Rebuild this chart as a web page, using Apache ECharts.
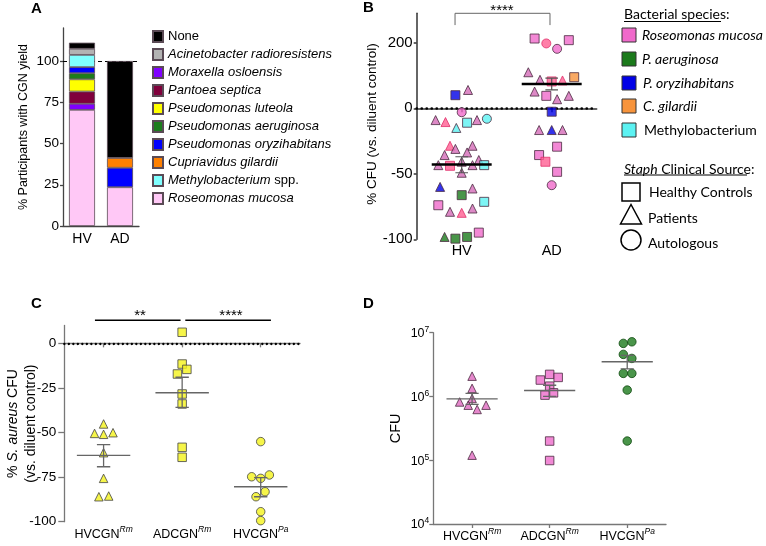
<!DOCTYPE html>
<html>
<head>
<meta charset="UTF-8">
<title>CGN yield and S. aureus CFU</title>
<script src="https://cdn.jsdelivr.net/npm/echarts@6.0.0/dist/echarts.min.js"></script>
<style>
    html, body { margin: 0; padding: 0; background: #fff; }
    #main { width: 766px; height: 546px; }
</style>
</head>
<body>
<div id="main"></div>
<script>
// ---- panel A: % participants with CGN yield ----
var aCats = ['HV', 'AD'];
// stack order, bottom to top
var aSpecies = ['Roseomonas mucosa', 'Moraxella osloensis', 'Pantoea septica', 'Pseudomonas luteola',
    'Pseudomonas aeruginosa', 'Pseudomonas oryzihabitans', 'Cupriavidus gilardii',
    'Methylobacterium spp.', 'Acinetobacter radioresistens', 'None'];
var aHV = [70.4, 3.7, 7.4, 7.4, 3.7, 3.7, 0, 7.4, 3.7, 3.7];
var aAD = [23.5, 0, 0, 0, 0, 11.8, 5.9, 0, 0, 58.8];
var aLegend = ['None', 'Acinetobacter radioresistens', 'Moraxella osloensis', 'Pantoea septica',
    'Pseudomonas luteola', 'Pseudomonas aeruginosa', 'Pseudomonas oryzihabitans',
    'Cupriavidus gilardii', 'Methylobacterium spp.', 'Roseomonas mucosa'];

// ---- panel B: % CFU vs diluent control ----
var bCats = ['HV', 'AD'];
var bHVval = [40, 56, -3, -9, -10.5, -15, -11, -9, -8, -28.6, -31, -33.7, -28.6, -35.7, -43.4, -43.9,
    -40.8, -49.2, -43.4, -39.5, -43.4, -60, -66.3, -61.2, -74, -71.4, -79, -79.8, -76.5, -98.2, -99.5, -98.2, -94.9];
var bHVjit = [-0.07, 0.07, 0, -0.29, -0.18, -0.06, 0.06, 0.17, 0.28, -0.13, -0.07, 0.06, 0.12, -0.19, -0.26, -0.13,
    0, 0, 0.12, 0.19, 0.25, -0.24, 0, 0.12, -0.26, 0.25, -0.13, 0, 0.12, -0.19, -0.07, 0.06, 0.19];
var bHVsp = ['Po', 'Rt', 'Rm', 'Rt', 'Rx', 'Mb', 'Mb', 'Rt', 'Mb', 'Rx', 'Rt', 'Rt', 'Rt', 'Rt', 'Rt', 'Rx',
    'Rt', 'Rt', 'Rt', 'Rt', 'Mb', 'Po', 'Pa', 'Rt', 'Rm', 'Mb', 'Rt', 'Rx', 'Rt', 'Pa', 'Pa', 'Pa', 'Rm'];
var bHVsrc = ['H', 'P', 'A', 'P', 'P', 'P', 'H', 'P', 'A', 'P', 'P', 'P', 'P', 'P', 'P', 'H',
    'P', 'P', 'P', 'P', 'H', 'P', 'H', 'P', 'H', 'H', 'P', 'P', 'P', 'P', 'H', 'H', 'H'];
var bADval = [213, 198, 181.5, 208, 110, 87, 82, 85, 95, 51, 38, 27.7, 38, -2.6, -16.6, -16.6, -16.6,
    -29.3, -35.7, -40.8, -48.5, -58.7];
var bADjit = [-0.19, -0.06, 0.06, 0.19, -0.26, -0.13, 0, 0.12, 0.25, -0.19, -0.06, 0.06, 0.19, 0, -0.14, 0, 0.12,
    0.06, -0.14, -0.07, 0.06, 0];
var bADsp = ['Rm', 'Rx', 'Rm', 'Rm', 'Rt', 'Rt', 'Rx', 'Rx', 'Cg', 'Rt', 'Rm', 'Rt', 'Rt', 'Po', 'Rt', 'Po', 'Rt',
    'Rm', 'Rm', 'Rx', 'Rm', 'Rm'];
var bADsrc = ['H', 'A', 'A', 'H', 'P', 'P', 'H', 'P', 'H', 'P', 'H', 'P', 'P', 'H', 'P', 'P', 'P',
    'H', 'H', 'H', 'H', 'A'];
var bMean = [-42.9, 74];
var bErr = [[-49.2, -37], [56, 92]];

// ---- panel C: % S. aureus CFU ----
var cCats = ['HVCGN|Rm', 'ADCGN|Rm', 'HVCGN|Pa'];
var cVals = [
    [-45.2, -50.5, -51, -50.1, -61.3, -75.7, -86, -85.6],
    [6.2, -11.6, -14.6, -17.2, -28.4, -34, -58.3, -63.9],
    [-55.1, -74.8, -75.7, -73.8, -83.2, -86, -94.4, -99.4]
];
var cJit = [
    [0, -0.115, 0, 0.12, 0, 0, -0.06, 0.065],
    [0, 0, 0.06, -0.06, 0, 0, 0, 0],
    [0, -0.115, 0, 0.11, 0.055, -0.06, 0, 0]
];
var cMean = [-62.8, -27.7, -80.4];
var cErr = [[-69.2, -56.8], [-35.9, -19], [-86, -75.3]];

// ---- panel D: CFU ----
var dVals = [
    [2.08e6, 1.34e6, 9.3e5, 8.2e5, 7.3e5, 7.3e5, 6.25e5, 1.2e5],
    [2.22e6, 1.81e6, 1.99e6, 1.45e6, 1.05e6, 1.14e6, 2.0e5, 9.9e4],
    [6.8e6, 7.2e6, 4.57e6, 3.95e6, 2.3e6, 2.3e6, 1.26e6, 2.0e5]
];
var dJit = [
    [0, 0, 0, -0.16, -0.05, 0.18, 0.065, 0],
    [0, -0.12, 0.11, 0, -0.06, 0.05, 0, 0],
    [-0.05, 0.06, -0.05, 0.06, -0.05, 0.06, 0, 0]
];
var dMean = [9.2e5, 1.24e6, 3.5e6];
var dErr = [[7.5e5, 1.12e6], [1.0e6, 1.5e6], [2.7e6, 4.4e6]];

// ---- styles ----
var FONT = '"Liberation Sans", Arial, sans-serif';
var LFONT = 'Lato, "Open Sans", sans-serif';
var aColors = {
    'None': '#000000', 'Acinetobacter radioresistens': '#b3b3b3', 'Moraxella osloensis': '#8000ff',
    'Pantoea septica': '#80003c', 'Pseudomonas luteola': '#ffff00', 'Pseudomonas aeruginosa': '#1d7c1d',
    'Pseudomonas oryzihabitans': '#0000ff', 'Cupriavidus gilardii': '#ff8000',
    'Methylobacterium spp.': '#80ffff', 'Roseomonas mucosa': '#ffc8f6'
};
var spColor = { Rm: '#f06acb', Rt: '#d46cb8', Rx: '#ff5f92', Pa: '#1b7a1b', Po: '#0000e6', Cg: '#f7943c', Mb: '#5cf2f2' };
var srcShape = { H: 'rect', P: 'triangle', A: 'circle' };

function seg(x1, y1, x2, y2) { return [[x1, y1], [x2, y2]]; }
function meanErr(c, m, lo, hi, hw, cw) {
    return {
        mean: [seg(c - hw, m, c + hw, m)],
        err: [seg(c, lo, c, hi), seg(c - cw, lo, c + cw, lo), seg(c - cw, hi, c + cw, hi)]
    };
}
function segLine(segs, xi, yi, color, width, z) {
    var data = [];
    segs.forEach(function (s) { data.push(s[0], s[1], ['-', '-']); });
    return {
        type: 'line', xAxisIndex: xi, yAxisIndex: yi, data: data, symbol: 'none', silent: true,
        connectNulls: false, clip: false, z: z, animation: false,
        lineStyle: { color: color, width: width }
    };
}
function supLabel(v, cats) {
    var c = cats[Math.round(v) - 1];
    if (!c) return '';
    var p = c.split('|');
    return '{b|' + p[0] + '}{s|' + p[1] + '}';
}
var supRich = {
    b: { fontFamily: FONT, fontSize: 12.5, color: '#000', lineHeight: 16, verticalAlign: 'bottom' },
    s: { fontFamily: FONT, fontSize: 8.5, fontStyle: 'italic', color: '#000', lineHeight: 16, verticalAlign: 'top' }
};

var series = [];

// A: stacked bars
aSpecies.forEach(function (name, i) {
    series.push({
        name: name, type: 'bar', stack: 'a', xAxisIndex: 0, yAxisIndex: 0, barWidth: 26, z: 10,
        data: [aHV[i] || null, aAD[i] || null],
        itemStyle: { color: aColors[name], borderColor: '#5a4a55', borderWidth: 0.8 }
    });
});
series.push({
    type: 'line', xAxisIndex: 0, yAxisIndex: 0, data: [], silent: true,
    markLine: {
        silent: true, symbol: ['none', 'none'], label: { show: false },
        lineStyle: { color: '#000', type: [4, 3], width: 1.2 },
        data: [{ yAxis: 100 }]
    }
});

// B: scatter split between upper (>=0) and lower (<0) grids
var bUp = [], bLow = [];
[[bHVval, bHVjit, bHVsp, bHVsrc], [bADval, bADjit, bADsp, bADsrc]].forEach(function (g, gi) {
    g[0].forEach(function (v, k) {
        var sp = g[2][k];
        var item = {
            value: [gi + 1 + g[1][k], v],
            symbol: srcShape[g[3][k]],
            itemStyle: { color: spColor[sp], borderColor: sp === 'Rx' ? '#e0306a' : '#4a2a40', borderWidth: 1 }
        };
        (v >= 0 ? bUp : bLow).push(item);
    });
});
series.push({ type: 'scatter', xAxisIndex: 1, yAxisIndex: 1, symbolSize: 9, data: bUp, z: 10, clip: false });
series.push({
    type: 'scatter', xAxisIndex: 2, yAxisIndex: 2, symbolSize: 9, data: bLow, z: 10, clip: false,
    markLine: {
        silent: true, symbol: ['none', 'none'], label: { show: false },
        lineStyle: { color: '#000', type: [0.1, 4.9], cap: 'round', width: 2.6 },
        data: [{ yAxis: 0 }]
    }
});
var bHVme = meanErr(1, bMean[0], bErr[0][0], bErr[0][1], 0.333, 0.07);
var bADme = meanErr(2, bMean[1], bErr[1][0], bErr[1][1], 0.333, 0.07);
series.push(segLine(bHVme.err, 2, 2, '#555', 1.2, 11));
series.push(segLine(bHVme.mean, 2, 2, '#000', 2.6, 12));
series.push(segLine(bADme.err, 1, 1, '#555', 1.2, 11));
series.push(segLine(bADme.mean, 1, 1, '#000', 2.6, 12));
// significance bracket
series.push(segLine([seg(0.926, 254, 0.926, 290), seg(0.926, 290, 1.981, 290), seg(1.981, 290, 1.981, 254)], 1, 1, '#666', 1, 12));

// C: scatter
var cShapes = ['triangle', 'rect', 'circle'];
cVals.forEach(function (vals, gi) {
    series.push({
        type: 'scatter', xAxisIndex: 3, yAxisIndex: 3, symbol: cShapes[gi], symbolSize: 8.5, z: 10, clip: false,
        itemStyle: { color: '#f4f21c', borderColor: '#444', borderWidth: 1 },
        data: vals.map(function (v, k) { return [gi + 1 + cJit[gi][k], v]; }),
        markLine: gi === 0 ? {
            silent: true, symbol: ['none', 'none'], label: { show: false },
            lineStyle: { color: '#000', type: [0.1, 4.4], cap: 'round', width: 2.3 },
            data: [{ yAxis: 0 }]
        } : undefined
    });
    var me = meanErr(gi + 1, cMean[gi], cErr[gi][0], cErr[gi][1], 0.34, 0.085);
    series.push(segLine(me.err.concat(me.mean), 3, 3, '#666', 1.3, 11));
});
series.push(segLine([seg(0.89, 13, 1.98, 13), seg(2.04, 13, 3.13, 13)], 3, 3, '#000', 1.5, 12));

// D: scatter on log axis
var dShapes = ['triangle', 'rect', 'circle'];
var dColors = ['#e06ac0', '#ee6bcb', '#1d7a1d'];
dVals.forEach(function (vals, gi) {
    series.push({
        type: 'scatter', xAxisIndex: 4, yAxisIndex: 4, symbol: dShapes[gi], symbolSize: 8.5, z: 10, clip: false,
        itemStyle: { color: dColors[gi], borderColor: gi === 2 ? '#0f4a0f' : '#4a2a40', borderWidth: 1 },
        data: vals.map(function (v, k) { return [gi + 1 + dJit[gi][k], v]; })
    });
    var me = meanErr(gi + 1, dMean[gi], dErr[gi][0], dErr[gi][1], 0.33, 0.085);
    series.push(segLine(me.err.concat(me.mean), 4, 4, '#666', 1.3, 11));
});

function axisBase(color, w) {
    return {
        nameMoveOverlap: false,
        axisLine: { show: true, lineStyle: { color: color, width: w } },
        axisTick: { show: true, inside: false, length: 4, lineStyle: { color: color, width: w } },
        splitLine: { show: false }
    };
}
function merge(a, b) { for (var k in b) a[k] = b[k]; return a; }

var option = {
    animation: false,
    backgroundColor: '#fff',
    textStyle: { fontFamily: FONT },
    grid: [
        { left: 63, top: 28, width: 76, height: 198, outerBoundsMode: 'none' },
        { left: 416.7, top: 13.3, width: 180, height: 95, outerBoundsMode: 'none' },
        { left: 416.7, top: 108.3, width: 180, height: 131, outerBoundsMode: 'none' },
        { left: 64.3, top: 325.5, width: 235.7, height: 196.2, outerBoundsMode: 'none' },
        { left: 433.3, top: 332.7, width: 232.7, height: 191.3, outerBoundsMode: 'none' }
    ],
    legend: {
        data: aLegend, orient: 'vertical', left: 152, top: 30, padding: 0, itemWidth: 10, itemHeight: 11, itemGap: 5,
        icon: 'rect', selectedMode: false,
        textStyle: {
            fontFamily: FONT, fontSize: 13, color: '#000',
            rich: { i: { fontFamily: FONT, fontSize: 13, fontStyle: 'italic', color: '#000' } }
        },
        formatter: function (n) {
            if (n === 'None') return n;
            if (n.indexOf(' spp.') > 0) return '{i|' + n.replace(' spp.', '') + '} spp.';
            return '{i|' + n + '}';
        }
    },
    xAxis: [
        merge(axisBase('#444', 1.3), {
            type: 'category', gridIndex: 0, data: aCats,
            axisTick: { show: false },
            axisLabel: { color: '#000', fontSize: 14, margin: 6, fontFamily: FONT }
        }),
        { type: 'value', gridIndex: 1, min: 0.5, max: 2.5, show: false },
        merge(axisBase('#333', 1.5), {
            type: 'value', gridIndex: 2, min: 0.5, max: 2.5,
            axisTick: { show: true, length: 4, customValues: [1, 2], lineStyle: { color: '#333', width: 1.5 } },
            axisLabel: {
                customValues: [1, 2], color: '#000', fontSize: 14.5, margin: 4, fontFamily: FONT,
                formatter: function (v) { return bCats[Math.round(v) - 1] || ''; }
            }
        }),
        merge(axisBase('#777', 1.3), {
            type: 'value', gridIndex: 3, min: 0.5, max: 3.5,
            axisTick: { show: true, length: 4, customValues: [1, 2, 3], lineStyle: { color: '#777', width: 1.3 } },
            axisLabel: {
                customValues: [1, 2, 3], margin: 3, rich: supRich,
                formatter: function (v) { return supLabel(v, cCats); }
            }
        }),
        merge(axisBase('#777', 1.3), {
            type: 'value', gridIndex: 4, min: 0.5, max: 3.5,
            axisTick: { show: true, length: 4, customValues: [1, 2, 3], lineStyle: { color: '#777', width: 1.3 } },
            axisLabel: {
                customValues: [1, 2, 3], margin: 3, rich: supRich,
                formatter: function (v) { return supLabel(v, cCats); }
            }
        })
    ],
    yAxis: [
        merge(axisBase('#444', 1.3), {
            type: 'value', gridIndex: 0, min: 0, max: 120,
            axisTick: { show: true, length: 3, customValues: [0, 25, 50, 75, 100], lineStyle: { color: '#444', width: 1.3 } },
            axisLabel: { customValues: [0, 25, 50, 75, 100], color: '#000', fontSize: 13.5, margin: 4, fontFamily: FONT },
            name: '% Participants with CGN yield', nameLocation: 'middle', nameGap: 33,
            nameTextStyle: { color: '#000', fontSize: 12.5, fontFamily: FONT }
        }),
        merge(axisBase('#333', 1.5), {
            type: 'value', gridIndex: 1, min: 0, max: 290,
            axisTick: { show: true, length: 3, customValues: [200], lineStyle: { color: '#333', width: 1.5 } },
            axisLabel: { customValues: [200], color: '#000', fontSize: 15, margin: 4, fontFamily: FONT }
        }),
        merge(axisBase('#333', 1.5), {
            type: 'value', gridIndex: 2, min: -100, max: 0,
            axisTick: { show: true, length: 3, customValues: [-100, -50, 0], lineStyle: { color: '#333', width: 1.5 } },
            axisLabel: { customValues: [-100, -50, 0], color: '#000', fontSize: 15, margin: 4, fontFamily: FONT }
        }),
        merge(axisBase('#777', 1.3), {
            type: 'value', gridIndex: 3, min: -100, max: 10,
            axisTick: { show: true, length: 6, customValues: [-100, -75, -50, -25, 0], lineStyle: { color: '#777', width: 1.3 } },
            axisLabel: { customValues: [-100, -75, -50, -25, 0], color: '#000', fontSize: 13.5, margin: 8, fontFamily: FONT },
            name: '{n|% }{i|S. aureus}{n| CFU}\n{n|(vs. diluent control)}', nameLocation: 'middle', nameGap: 24,
            nameTextStyle: {
                color: '#000', fontFamily: FONT, fontSize: 14, lineHeight: 18,
                rich: {
                    n: { fontFamily: FONT, fontSize: 14, color: '#000', lineHeight: 18 },
                    i: { fontFamily: FONT, fontSize: 14, color: '#000', fontStyle: 'italic', lineHeight: 18 }
                }
            }
        }),
        merge(axisBase('#777', 1.3), {
            type: 'log', logBase: 10, gridIndex: 4, min: 1e4, max: 1e7,
            axisLabel: {
                margin: 4,
                formatter: function (v) { return '{b|10}{s|' + Math.round(Math.log10(v)) + '}'; },
                rich: {
                    b: { fontFamily: FONT, fontSize: 12.5, color: '#000', lineHeight: 15, verticalAlign: 'bottom' },
                    s: { fontFamily: FONT, fontSize: 8.5, color: '#000', lineHeight: 15, verticalAlign: 'top' }
                }
            },
            name: 'CFU', nameLocation: 'middle', nameGap: 30,
            nameTextStyle: { color: '#000', fontSize: 14.5, fontFamily: FONT }
        })
    ],
    graphic: [
        { type: 'text', x: 31, y: 1, style: { text: 'A', font: 'bold 15px ' + FONT, fill: '#000' } },
        { type: 'text', x: 363, y: 0, style: { text: 'B', font: 'bold 15px ' + FONT, fill: '#000' } },
        { type: 'text', x: 31, y: 296, style: { text: 'C', font: 'bold 15px ' + FONT, fill: '#000' } },
        { type: 'text', x: 363, y: 296, style: { text: 'D', font: 'bold 15px ' + FONT, fill: '#000' } },
        // axis title B (spans both grids)
        { type: 'text', x: 372, y: 124, rotation: Math.PI / 2,
          style: { text: '% CFU (vs. diluent control)', font: '13.5px ' + FONT, fill: '#000', align: 'center', verticalAlign: 'middle' } },
        // significance stars
        { type: 'text', x: 502, y: 3, style: { text: '****', font: '15px ' + FONT, fill: '#000', align: 'center' } },
        { type: 'text', x: 140, y: 308, style: { text: '**', font: '15px ' + FONT, fill: '#000', align: 'center' } },
        { type: 'text', x: 231, y: 308, style: { text: '****', font: '15px ' + FONT, fill: '#000', align: 'center' } },
        // B legend: bacterial species
        { type: 'text', x: 624, y: 7, style: { text: 'Bacterial species:', font: '14px ' + LFONT, fill: '#000' } },
        { type: 'line', shape: { x1: 624, y1: 21.5, x2: 721, y2: 21.5 }, style: { stroke: '#000', lineWidth: 1 } },
        { type: 'rect', shape: { x: 622, y: 28, width: 14, height: 14 }, style: { fill: spColor.Rm, stroke: '#333', lineWidth: 1 } },
        { type: 'rect', shape: { x: 622, y: 52, width: 14, height: 14 }, style: { fill: spColor.Pa, stroke: '#333', lineWidth: 1 } },
        { type: 'rect', shape: { x: 622, y: 76, width: 14, height: 14 }, style: { fill: spColor.Po, stroke: '#333', lineWidth: 1 } },
        { type: 'rect', shape: { x: 622, y: 99, width: 14, height: 14 }, style: { fill: spColor.Cg, stroke: '#333', lineWidth: 1 } },
        { type: 'rect', shape: { x: 622, y: 123, width: 14, height: 14 }, style: { fill: spColor.Mb, stroke: '#333', lineWidth: 1 } },
        { type: 'text', x: 642, y: 35, style: { text: 'Roseomonas mucosa', font: 'italic 14px ' + LFONT, fill: '#000', verticalAlign: 'middle' } },
        { type: 'text', x: 642, y: 59, style: { text: 'P. aeruginosa', font: 'italic 14px ' + LFONT, fill: '#000', verticalAlign: 'middle' } },
        { type: 'text', x: 643, y: 83, style: { text: 'P. oryzihabitans', font: 'italic 14px ' + LFONT, fill: '#000', verticalAlign: 'middle' } },
        { type: 'text', x: 643, y: 106, style: { text: 'C. gilardii', font: 'italic 14px ' + LFONT, fill: '#000', verticalAlign: 'middle' } },
        { type: 'text', x: 644, y: 130, style: { text: 'Methylobacterium', font: '14px ' + LFONT, fill: '#000', verticalAlign: 'middle' } },
        // B legend: clinical source
        { type: 'text', x: 624, y: 169, style: { rich: { i: { font: 'italic 14px ' + LFONT, fill: '#000' }, n: { font: '14px ' + LFONT, fill: '#000' } },
          text: '{i|Staph}{n| Clinical Source:}', verticalAlign: 'middle' } },
        { type: 'line', shape: { x1: 624, y1: 175, x2: 747, y2: 175 }, style: { stroke: '#000', lineWidth: 1 } },
        { type: 'rect', shape: { x: 622, y: 183, width: 18, height: 18 }, style: { fill: 'none', stroke: '#000', lineWidth: 1.5 } },
        { type: 'polygon', shape: { points: [[631, 204.5], [620.5, 224], [641.5, 224]] }, style: { fill: 'none', stroke: '#000', lineWidth: 1.5 } },
        { type: 'circle', shape: { cx: 631, cy: 240, r: 10 }, style: { fill: 'none', stroke: '#000', lineWidth: 1.5 } },
        { type: 'text', x: 649, y: 192, style: { text: 'Healthy Controls', font: '14px ' + LFONT, fill: '#000', verticalAlign: 'middle' } },
        { type: 'text', x: 648, y: 218, style: { text: 'Patients', font: '14px ' + LFONT, fill: '#000', verticalAlign: 'middle' } },
        { type: 'text', x: 648, y: 243, style: { text: 'Autologous', font: '14px ' + LFONT, fill: '#000', verticalAlign: 'middle' } }
    ],
    series: series
};

var chart = echarts.init(document.getElementById('main'));
chart.setOption(option);
</script>
</body>
</html>
